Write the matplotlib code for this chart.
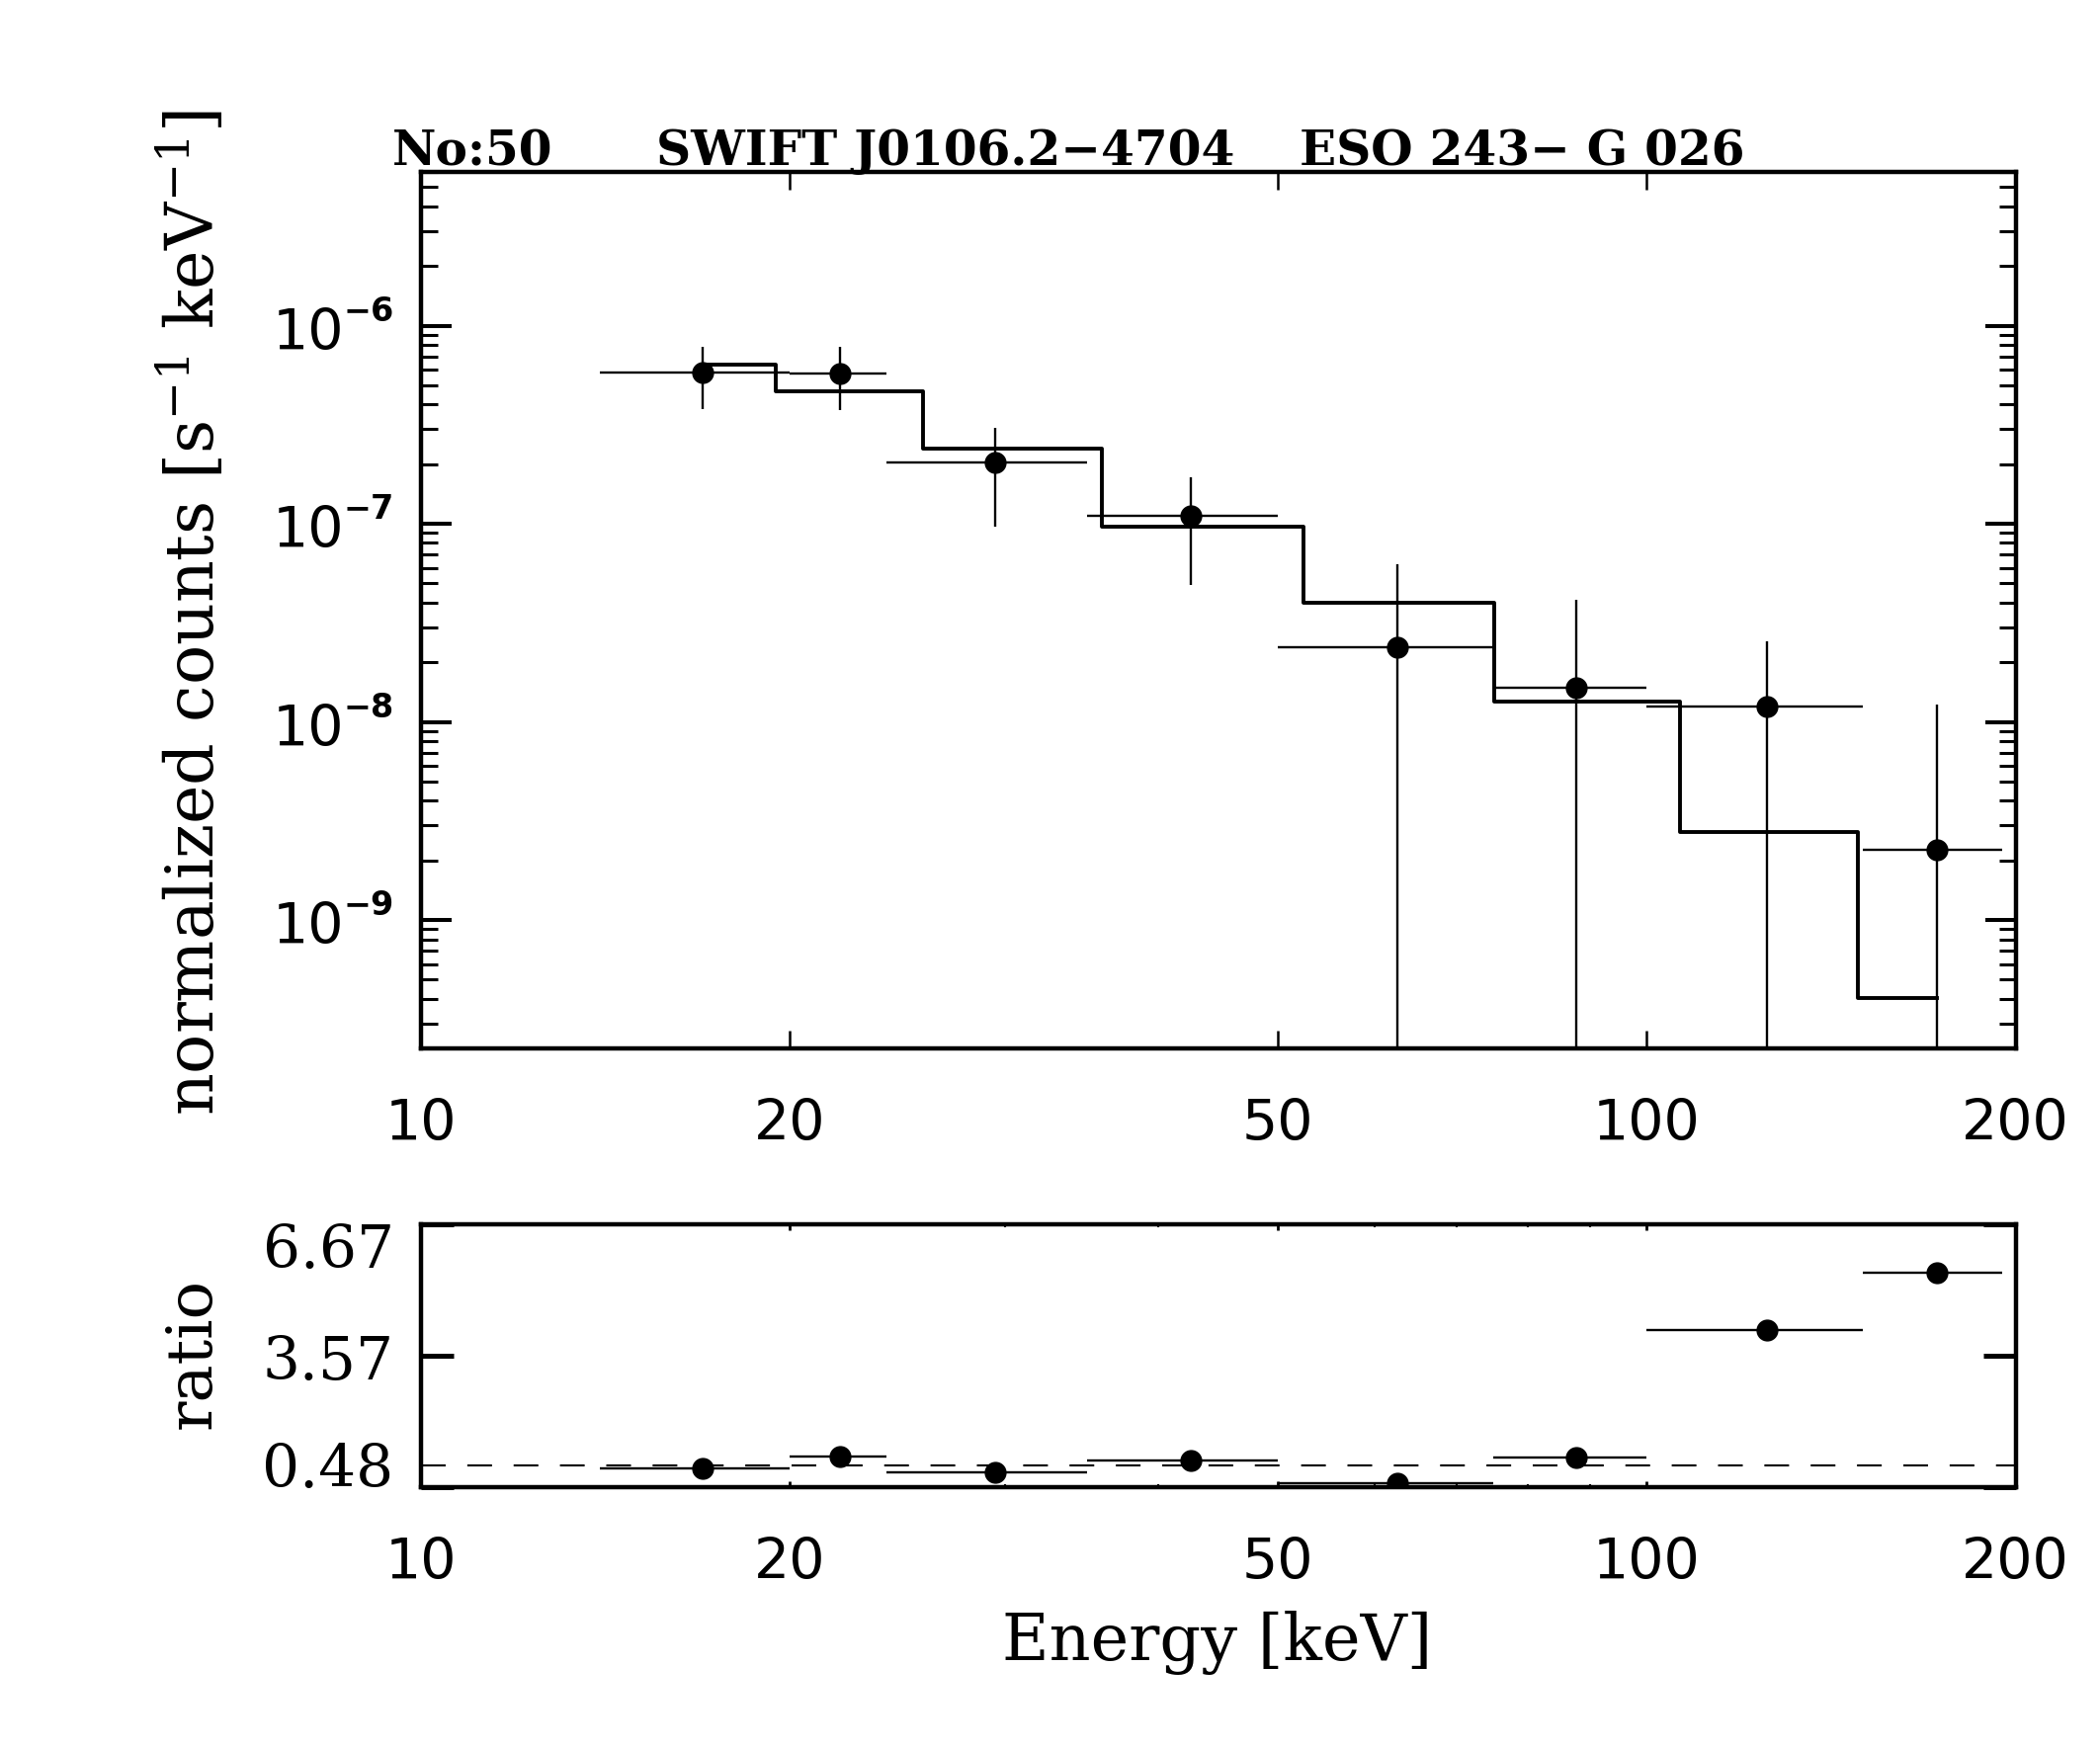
import matplotlib
matplotlib.use('Agg')
import matplotlib.pyplot as plt
import matplotlib.transforms as mtransforms
from matplotlib.ticker import FixedLocator, NullLocator, NullFormatter
import numpy as np

# ---------------- data ----------------
energy = [17.0, 22.0, 29.4, 42.5, 62.6, 87.6, 125.3, 172.4]
bin_lo = [14, 20, 24, 35, 50, 75, 100, 150]
bin_hi = [20, 24, 35, 50, 75, 100, 150, 195]
counts = [5.8e-7, 5.7e-7, 2.05e-7, 1.1e-7, 2.39e-8, 1.48e-8, 1.19e-8, 2.25e-9]
counts_hi = [7.8e-7, 7.8e-7, 3.06e-7, 1.72e-7, 6.27e-8, 4.12e-8, 2.54e-8, 1.22e-8]
counts_lo = [3.8e-7, 3.75e-7, 9.7e-8, 4.9e-8, 1e-12, 1e-12, 1e-12, 1e-12]
model = [6.37e-7, 4.67e-7, 2.39e-7, 9.7e-8, 4.0e-8, 1.26e-8, 2.79e-9, 4.06e-10]
ratio = [0.92, 1.21, 0.83, 1.11, 0.575, 1.175, 4.175, 5.53]

x_ticks = [10, 20, 50, 100, 200]
x_ticklabels = ['10', '20', '50', '100', '200']
x_minor_ratio = [30, 40, 60, 70, 80, 90]
y_decades = [-9, -8, -7, -6]
ratio_ticks = [0.48, 3.57, 6.67]
ratio_ticklabels = ['0.48', '3.57', '6.67']
title_parts = ['No:50', 'SWIFT J0106.2\u22124704', 'ESO 243\u2212 G 026']
ylabel_top = r'normalized counts [s$^{-1}$ keV$^{-1}$]'
ylabel_bot = 'ratio'
xlabel = 'Energy [keV]'

# ---------------- figure ----------------
plt.rcParams['mathtext.fontset'] = 'dejavuserif'
W, H = 2125, 1771
DPI = 100
fig = plt.figure(figsize=(W / DPI, H / DPI), dpi=DPI)
fig.patch.set_facecolor('white')


def fx(px):
    return px / W


def fy(py):
    return 1 - py / H


L, R = 425.5, 2039.6
ax1 = fig.add_axes([fx(L), fy(1061), (R - L) / W, (1061 - 173.5) / H])
ax2 = fig.add_axes([fx(L), fy(1505), (R - L) / W, (1505 - 1239) / H])


def off(trans, dx, dy):
    return trans + mtransforms.ScaledTranslation(dx / DPI, dy / DPI, fig.dpi_scale_trans)


e = np.array(energy)
xerr = [e - np.array(bin_lo), np.array(bin_hi) - e]
c = np.array(counts)
yerr = [c - np.array(counts_lo), np.array(counts_hi) - c]

# ---- top panel ----
ax1.set_xscale('log')
ax1.set_yscale('log')
ax1.errorbar(energy, counts, xerr=xerr, yerr=yerr, fmt='o', color='k',
             ms=15, elinewidth=1.7, capsize=0, zorder=3)
ax1.plot(energy, model, drawstyle='steps-mid', color='k', lw=2.8, zorder=2)
ax1.set_xlim(10, 200)
ax1.set_ylim(2.25e-10, 6e-6)
ax1.xaxis.set_major_locator(FixedLocator(x_ticks))
ax1.xaxis.set_minor_locator(NullLocator())
ax1.xaxis.set_major_formatter(NullFormatter())
ax1.yaxis.set_major_formatter(NullFormatter())
ax1.yaxis.set_minor_formatter(NullFormatter())
ax1.tick_params(axis='x', which='major', direction='in', length=13, width=1.8,
                top=True, bottom=True, labelbottom=False)
ax1.tick_params(axis='y', which='major', direction='in', length=22, width=2.9,
                left=True, right=True, labelleft=False)
ax1.tick_params(axis='y', which='minor', direction='in', length=12, width=2.2,
                left=True, right=True, labelleft=False)

for d in y_decades:
    ax1.text(0, 10.0 ** d, '10', transform=off(ax1.get_yaxis_transform(), -77, -24),
             ha='right', va='baseline', fontsize=41, family='DejaVu Sans')
    ax1.text(0, 10.0 ** d, '\u2212' + str(-d), transform=off(ax1.get_yaxis_transform(), -27, 5),
             ha='right', va='baseline', fontsize=24, family='DejaVu Sans',
             fontweight='bold')

for v, lab in zip(x_ticks, x_ticklabels):
    ax1.text(v, 0, lab, transform=off(ax1.get_xaxis_transform(), 0, -93),
             ha='center', va='baseline', fontsize=41, family='DejaVu Sans')

# ---- bottom panel ----
ax2.set_xscale('log')
ax2.errorbar(energy, ratio, xerr=xerr, fmt='o', color='k', ms=15,
             elinewidth=1.7, capsize=0, zorder=3)
ax2.axhline(1.0, color='k', lw=1.5, linestyle=(0, (12, 10.5)), zorder=1)
ax2.set_xlim(10, 200)
ax2.set_ylim(ratio_ticks[0], ratio_ticks[-1])
ax2.xaxis.set_major_locator(FixedLocator(x_ticks))
ax2.xaxis.set_minor_locator(FixedLocator(x_minor_ratio))
ax2.xaxis.set_major_formatter(NullFormatter())
ax2.xaxis.set_minor_formatter(NullFormatter())
ax2.yaxis.set_major_locator(FixedLocator(ratio_ticks))
ax2.yaxis.set_major_formatter(NullFormatter())
ax2.tick_params(axis='x', which='major', direction='in', length=4.5, width=2,
                top=True, bottom=True, labelbottom=False)
ax2.tick_params(axis='x', which='minor', direction='in', length=2.2, width=1.5,
                top=True, bottom=True, labelbottom=False)
ax2.tick_params(axis='y', which='major', direction='in', length=24, width=3.6,
                left=True, right=True, labelleft=False)

for v, lab, dy in zip(ratio_ticks, ratio_ticklabels, [0, -24, -44.5]):
    ax2.text(0, v, lab, transform=off(ax2.get_yaxis_transform(), -27, dy),
             ha='right', va='baseline', fontsize=43, family='DejaVu Serif')

for v, lab in zip(x_ticks, x_ticklabels):
    ax2.text(v, 0, lab, transform=off(ax2.get_xaxis_transform(), 0, -93),
             ha='center', va='baseline', fontsize=41, family='DejaVu Sans')

for ax in (ax1, ax2):
    for s in ax.spines.values():
        s.set_linewidth(3.2)

# ---- labels / title ----
fig.text(fx(217), fy(620), ylabel_top, rotation=90, rotation_mode='anchor',
         ha='center', va='baseline', fontsize=48, family='DejaVu Serif')
fig.text(fx(213), fy(1370), ylabel_bot, rotation=90, rotation_mode='anchor',
         ha='center', va='baseline', fontsize=46, family='DejaVu Serif')
fig.text(fx(1232), fy(1680), xlabel, ha='center', va='baseline',
         fontsize=47, family='DejaVu Serif')

for xp, txt in zip([397, 664, 1315], title_parts):
    fig.text(fx(xp), fy(167), txt, ha='left', va='baseline', fontsize=35,
             family='DejaVu Serif', fontweight='bold')

fig.savefig('out.png', dpi=DPI, facecolor='white')
